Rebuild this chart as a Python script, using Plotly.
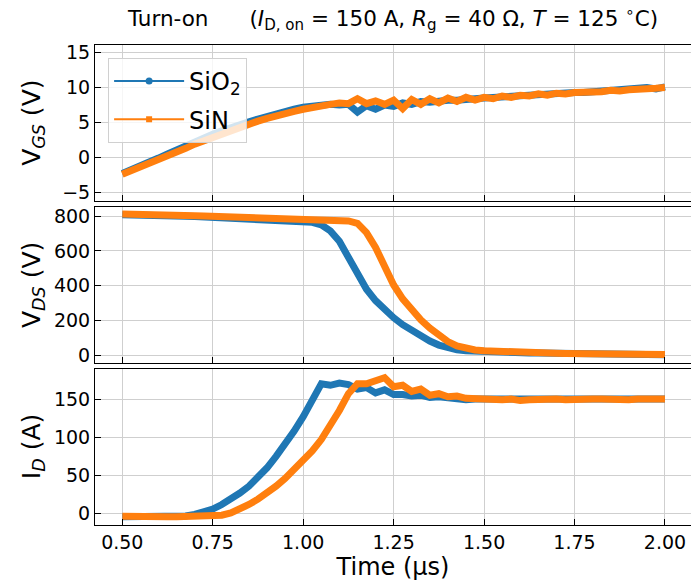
import plotly.graph_objects as go
from plotly.subplots import make_subplots

# time axis (µs)
t = [0.5, 0.525, 0.55, 0.575, 0.6, 0.625, 0.65, 0.675, 0.7, 0.725,
     0.75, 0.775, 0.8, 0.825, 0.85, 0.875, 0.9, 0.925, 0.95, 0.975,
     1.0, 1.025, 1.05, 1.075, 1.1, 1.125, 1.15, 1.175, 1.2, 1.225,
     1.25, 1.275, 1.3, 1.325, 1.35, 1.375, 1.4, 1.425, 1.45, 1.475,
     1.5, 1.525, 1.55, 1.575, 1.6, 1.625, 1.65, 1.675, 1.7, 1.725,
     1.75, 1.775, 1.8, 1.825, 1.85, 1.875, 1.9, 1.925, 1.95, 1.975,
     2.0]

vgs_sio2 = [-2.3, -1.8, -1.2, -0.7, -0.1, 0.5, 1.1, 1.7, 2.2, 2.8,
            3.3, 3.8, 4.3, 4.7, 5.1, 5.5, 5.9, 6.2, 6.6, 6.9,
            7.2, 7.4, 7.6, 7.6, 7.5, 7.6, 6.5, 7.4, 6.9, 7.5,
            7.3, 7.8, 7.6, 8.0, 7.9, 8.1, 8.2, 8.2, 8.4, 8.4,
            8.5, 8.6, 8.7, 8.7, 8.8, 8.9, 9.0, 9.0, 9.1, 9.2,
            9.3, 9.3, 9.4, 9.5, 9.6, 9.6, 9.8, 9.7, 10.0, 9.8,
            10.1]
vgs_sin = [-2.4, -1.9, -1.4, -0.9, -0.4, 0.2, 0.8, 1.3, 1.9, 2.4,
           2.9, 3.4, 3.9, 4.4, 4.8, 5.2, 5.6, 6.0, 6.3, 6.6,
           6.9, 7.2, 7.5, 7.6, 7.8, 7.7, 8.4, 7.7, 8.1, 7.6,
           8.2, 7.0, 8.3, 7.6, 8.4, 7.8, 8.5, 8.0, 8.6, 8.2,
           8.6, 8.4, 8.8, 8.6, 8.9, 8.8, 9.1, 8.9, 9.2, 9.1,
           9.3, 9.3, 9.4, 9.4, 9.6, 9.5, 9.7, 9.7, 9.8, 9.9,
           10.0]

vds_sio2 = [808, 808, 807, 806, 805, 803, 801, 799, 797, 795,
            792, 790, 787, 785, 782, 780, 777, 775, 772, 770,
            767, 764, 750, 715, 655, 565, 465, 380, 315, 262,
            217, 177, 142, 110, 83, 60, 44, 33, 27, 24,
            22, 20, 19, 18, 16, 15, 14, 13, 12, 11,
            10, 9, 8, 8, 7, 7, 6, 6, 5, 5,
            5]
vds_sin = [812, 812, 811, 810, 809, 808, 806, 804, 802, 800,
           798, 796, 794, 792, 790, 788, 786, 784, 782, 781,
           779, 778, 777, 776, 775, 772, 758, 705, 620, 512,
           405, 325, 260, 205, 158, 115, 80, 55, 40, 32,
           27, 24, 21, 19, 17, 16, 15, 14, 13, 12,
           11, 10, 9, 9, 8, 8, 7, 7, 6, 6,
           6]

id_sio2 = [-4, -4, -4.5, -4, -4, -3.5, -4, -3, -1, 2,
           6, 12, 19, 27, 36, 47, 60, 75, 91, 108,
           127, 150, 170, 168, 171, 169, 163, 165, 158, 162,
           156, 156, 154, 155, 152, 153, 151, 150, 149, 150,
           150, 149, 150, 151, 150, 149, 150, 151, 150, 149,
           150, 151, 150, 150, 151, 149, 150, 151, 150, 150,
           150]
id_sin = [-3.5, -4, -3.5, -4, -3.5, -4, -4, -3.5, -4, -4,
          -3.5, -2, 1, 6, 12, 19, 27, 36, 46, 57,
          69, 82, 97, 115, 135, 157, 170, 170, 173, 178,
          166, 168, 160, 163, 155, 157, 153, 154, 151, 150,
          149, 148, 149, 150, 148, 149, 150, 149, 150, 149,
          150, 149, 150, 150, 149, 150, 149, 150, 150, 149,
          150]

blue = "#1f77b4"
orange = "#ff7f0e"
font = "DejaVu Sans"

fig = make_subplots(rows=3, cols=1, shared_xaxes=True, vertical_spacing=0.0135)

panels = [(vgs_sio2, vgs_sin), (vds_sio2, vds_sin), (id_sio2, id_sin)]
for row, (a, b) in enumerate(panels, start=1):
    fig.add_trace(go.Scatter(x=t, y=a, mode="lines", line=dict(color=blue, width=7),
                             showlegend=False), row=row, col=1)
    fig.add_trace(go.Scatter(x=t, y=b, mode="lines", line=dict(color=orange, width=7),
                             showlegend=False), row=row, col=1)

# legend entries
fig.add_trace(go.Scatter(x=[None], y=[None], mode="lines+markers", name="SiO<sub>2</sub>",
                         legendgroup="a", line=dict(color=blue, width=2),
                         marker=dict(symbol="circle", size=7)), row=1, col=1)
fig.add_trace(go.Scatter(x=[None], y=[None], mode="lines+markers", name="SiN",
                         legendgroup="b", line=dict(color=orange, width=2),
                         marker=dict(symbol="square", size=6)), row=1, col=1)

fig.update_xaxes(range=[0.4245, 2.072], tick0=0.5, dtick=0.25, tickformat=".2f",
                 ticks="inside", ticklen=6, tickcolor="black", automargin=False,
                 showline=True, mirror=True, linecolor="black", linewidth=1,
                 showgrid=True, gridcolor="#cfcfcf", gridwidth=1, zeroline=False,
                 tickfont=dict(size=19, color="black"))
fig.update_yaxes(ticks="inside", ticklen=6, tickcolor="black", automargin=False,
                 showline=True, mirror=False, linecolor="black", linewidth=1,
                 showgrid=True, gridcolor="#cfcfcf", gridwidth=1, zeroline=False,
                 tickfont=dict(size=19, color="black"))
fig.update_yaxes(range=[-6.2, 16.1], dtick=5, row=1, col=1)
fig.update_yaxes(range=[-42, 851], dtick=200, row=2, col=1)
fig.update_yaxes(range=[-14.8, 188.9], dtick=50, row=3, col=1)
fig.update_xaxes(title=dict(text="Time (µs)", font=dict(size=24, color="black"), standoff=4),
                 row=3, col=1)

ylabels = ["V<sub><i>GS</i></sub> (V)", "V<sub><i>DS</i></sub> (V)", "I<sub><i>D</i></sub> (A)"]
for i, lab in enumerate(ylabels):
    dom = fig.layout["yaxis" + ("" if i == 0 else str(i + 1))].domain
    fig.add_annotation(text=lab, xref="paper", yref="paper", x=-0.104, y=(dom[0] + dom[1]) / 2,
                       xanchor="center", yanchor="middle", textangle=-90, showarrow=False,
                       font=dict(size=25, color="black"))

fig.update_layout(
    width=691, height=585,
    margin=dict(l=95, r=0, t=45, b=60),
    paper_bgcolor="white", plot_bgcolor="white",
    font=dict(family=font, color="black"),
    title=dict(text="Turn-on&nbsp;&nbsp;&nbsp;&nbsp;&nbsp;&nbsp;(<i>I</i><sub>D, on</sub> = 150 A, "
                    "<i>R</i><sub>g</sub> = 40 Ω, <i>T</i> = 125 <sup>∘</sup>C)",
               x=0.5, xref="paper", xanchor="center", y=0.969, yanchor="middle",
               font=dict(size=21.5, color="black")),
    legend=dict(x=0.022, y=0.973, xanchor="left", yanchor="top", itemwidth=70,
                tracegroupgap=4,
                bgcolor="rgba(255,255,255,0.8)", bordercolor="#d0d0d0", borderwidth=1,
                font=dict(size=24, color="black")),
)

# drop the page's default body margin so the figure fills the window exactly
fig.write_html("out.html", config={"displayModeBar": False},
               post_script="document.body.style.margin='0';"
                           "document.documentElement.style.overflow='hidden';")
